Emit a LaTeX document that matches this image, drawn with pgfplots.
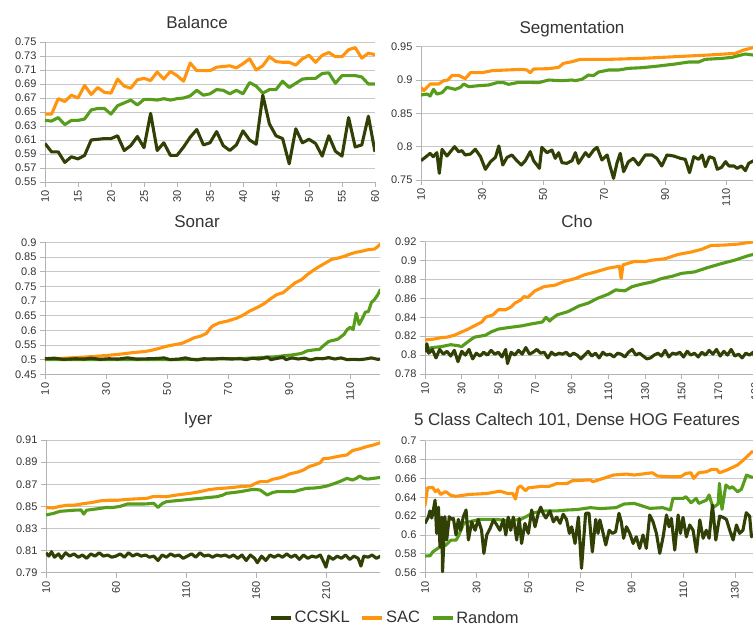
\documentclass[border=0pt]{standalone}
\usepackage{pgfplots}
\pgfplotsset{compat=1.18}
\usepackage{fontspec}
\setmainfont{Liberation Sans}
\definecolor{cc}{HTML}{314004}
\definecolor{sac}{HTML}{FF950E}
\definecolor{rnd}{HTML}{579D1C}
\definecolor{gridgray}{HTML}{C8C8C8}
\definecolor{axisgray}{HTML}{B3B3B3}
\definecolor{txt}{HTML}{333333}
\pgfplotsset{panel/.style={
  scale only axis, axis x line*=bottom, axis y line*=left,
  axis line style={draw=axisgray, line width=0.8pt},
  tick align=outside, major tick length=5pt,
  tick style={draw=axisgray, line width=0.8pt},
  ymajorgrids, grid style={draw=gridgray, line width=0.8pt},
  scaled ticks=false,
  /pgf/number format/assume math mode=true,
  xticklabel style={rotate=90, anchor=east, font=\fontsize{11}{11}\selectfont, text=txt},
  yticklabel style={font=\fontsize{11}{11}\selectfont, text=txt},
  every axis plot/.append style={line width=3.1pt, line join=round, mark=none},
}}
\begin{document}
\begin{tikzpicture}
\useasboundingbox (0,0) rectangle (753pt,626pt);
% Balance
\begin{axis}[panel, at={(45pt,444pt)}, anchor=south west, width=330pt, height=140pt,
  xmin=10, xmax=60, ymin=0.55, ymax=0.75,
  xtick={10,15,20,25,30,35,40,45,50,55,60},
  ytick={0.55,0.57,0.59,0.61,0.63,0.65,0.67,0.69,0.71,0.73,0.75}]
\addplot[sac] coordinates {(10,0.647)(11,0.647)(12,0.669)(13,0.665)(14,0.674)(15,0.670)(16,0.688)(17,0.675)(18,0.685)(19,0.678)(20,0.677)(21,0.697)(22,0.687)(23,0.684)(24,0.696)(25,0.698)(26,0.695)(27,0.707)(28,0.697)(29,0.708)(30,0.702)(31,0.694)(32,0.720)(33,0.709)(34,0.709)(35,0.709)(36,0.714)(37,0.715)(38,0.716)(39,0.713)(40,0.719)(41,0.726)(42,0.710)(43,0.716)(44,0.729)(45,0.722)(46,0.721)(47,0.721)(48,0.717)(49,0.726)(50,0.731)(51,0.721)(52,0.731)(53,0.735)(54,0.729)(55,0.729)(56,0.739)(57,0.742)(58,0.727)(59,0.734)(60,0.732)};
\addplot[rnd] coordinates {(10,0.638)(11,0.637)(12,0.642)(13,0.632)(14,0.638)(15,0.638)(16,0.640)(17,0.653)(18,0.655)(19,0.655)(20,0.647)(21,0.659)(22,0.663)(23,0.667)(24,0.660)(25,0.668)(26,0.668)(27,0.667)(28,0.669)(29,0.667)(30,0.669)(31,0.670)(32,0.673)(33,0.681)(34,0.674)(35,0.676)(36,0.682)(37,0.681)(38,0.676)(39,0.681)(40,0.676)(41,0.692)(42,0.687)(43,0.677)(44,0.682)(45,0.682)(46,0.694)(47,0.685)(48,0.691)(49,0.697)(50,0.698)(51,0.698)(52,0.705)(53,0.706)(54,0.691)(55,0.702)(56,0.702)(57,0.702)(58,0.700)(59,0.690)(60,0.690)};
\addplot[cc] coordinates {(10,0.605)(11,0.593)(12,0.593)(13,0.578)(14,0.586)(15,0.583)(16,0.588)(17,0.610)(18,0.611)(19,0.612)(20,0.612)(21,0.616)(22,0.595)(23,0.602)(24,0.615)(25,0.599)(26,0.648)(27,0.595)(28,0.606)(29,0.588)(30,0.588)(31,0.600)(32,0.614)(33,0.625)(34,0.603)(35,0.606)(36,0.622)(37,0.602)(38,0.595)(39,0.603)(40,0.623)(41,0.610)(42,0.604)(43,0.674)(44,0.633)(45,0.616)(46,0.612)(47,0.576)(48,0.626)(49,0.606)(50,0.611)(51,0.605)(52,0.587)(53,0.616)(54,0.594)(55,0.587)(56,0.642)(57,0.600)(58,0.603)(59,0.644)(60,0.593)};
\end{axis}
% Segmentation
\begin{axis}[panel, at={(421pt,446pt)}, anchor=south west, width=332pt, height=133.3pt,
  xmin=10, xmax=118.8, ymin=0.75, ymax=0.95,
  xtick={10,30,50,70,90,110}, ytick={0.75,0.8,0.85,0.9,0.95}]
\addplot[sac] coordinates {(10,0.889)(10.9,0.884)(13,0.894)(15.8,0.894)(17.4,0.899)(18.8,0.900)(20.2,0.907)(22.3,0.907)(24.5,0.902)(26.2,0.911)(30,0.911)(33.3,0.914)(37.8,0.915)(43.1,0.916)(44.7,0.915)(45.8,0.911)(46.9,0.9165)(51.8,0.917)(55.1,0.919)(56.7,0.925)(59.5,0.9275)(62.2,0.931)(71.5,0.931)(82.4,0.9325)(93.3,0.935)(104.2,0.9375)(113,0.94)(115.7,0.945)(118.8,0.9485)(120,0.949)};
\addplot[rnd] coordinates {(10,0.8775)(12,0.879)(13,0.876)(14.1,0.886)(15.2,0.879)(16.9,0.881)(18.5,0.889)(21.2,0.886)(22.9,0.889)(24,0.894)(25.6,0.890)(28.9,0.8915)(32.2,0.8925)(34.9,0.896)(37.1,0.896)(38.7,0.8935)(42,0.8965)(45.3,0.8965)(48.5,0.896)(51.8,0.900)(56.2,0.899)(59.5,0.900)(60.5,0.899)(62.7,0.901)(64.9,0.9075)(66.5,0.9065)(68.2,0.912)(71.5,0.915)(74.7,0.915)(78,0.9175)(82.4,0.9185)(87.8,0.921)(93.3,0.924)(97.7,0.927)(101,0.927)(103.1,0.931)(108.6,0.9325)(111.9,0.934)(116.2,0.939)(118.8,0.9375)(120,0.937)};
\addplot[cc] coordinates {(10,0.779)(11.4,0.784)(13,0.790)(14,0.785)(15.2,0.791)(16,0.760)(16.9,0.796)(18.5,0.786)(21,0.800)(22.3,0.7925)(23.4,0.794)(24.5,0.7875)(26.2,0.789)(27.8,0.796)(29.5,0.785)(31.1,0.766)(32.8,0.7775)(34.4,0.784)(35.5,0.801)(36.8,0.7725)(38.2,0.784)(39.8,0.7875)(41.4,0.779)(42.9,0.7725)(44.2,0.779)(45.8,0.7925)(46.9,0.779)(48.8,0.7675)(49.6,0.799)(51.3,0.791)(52.9,0.795)(54,0.7825)(55.1,0.791)(56.2,0.776)(57.8,0.775)(59.5,0.779)(60.6,0.791)(61.6,0.775)(63.9,0.791)(65,0.785)(66.6,0.795)(67.7,0.799)(69.3,0.780)(71,0.7875)(72,0.770)(73.1,0.7525)(74.2,0.775)(75.3,0.790)(76.4,0.7625)(78,0.7775)(79.6,0.7825)(81.3,0.7725)(83.5,0.7875)(85.7,0.7875)(87.3,0.7825)(88.9,0.771)(90.6,0.7875)(92.8,0.786)(95,0.7825)(96.6,0.781)(98,0.761)(99.4,0.785)(101,0.781)(102.1,0.7875)(103.2,0.770)(104.5,0.785)(106,0.7825)(107.1,0.766)(108.5,0.769)(109.8,0.7775)(110.9,0.771)(112.6,0.771)(113.6,0.7675)(115,0.771)(116.3,0.764)(117.4,0.775)(119,0.779)};
\end{axis}
% Sonar
\begin{axis}[panel, at={(45pt,251.7pt)}, anchor=south west, width=335pt, height=132pt,
  xmin=10, xmax=119.8, ymin=0.45, ymax=0.9,
  xtick={10,30,50,70,90,110}, ytick={0.45,0.5,0.55,0.6,0.65,0.7,0.75,0.8,0.85,0.9}]
\addplot[sac] coordinates {(10,0.502)(15,0.504)(20,0.507)(25,0.510)(30,0.514)(35,0.519)(38,0.523)(40,0.525)(43,0.528)(45,0.532)(48,0.540)(50,0.546)(53,0.552)(55,0.556)(57,0.565)(59,0.575)(61,0.580)(63,0.590)(64,0.605)(65,0.615)(67,0.625)(70,0.632)(73,0.642)(75,0.652)(77,0.665)(80,0.680)(82,0.692)(84,0.708)(86,0.722)(88,0.728)(90,0.745)(92,0.762)(94,0.772)(96,0.790)(98,0.805)(100,0.818)(102,0.830)(104,0.842)(106,0.846)(108,0.852)(110,0.860)(112,0.866)(114,0.870)(116,0.875)(118,0.877)(119,0.885)(120,0.895)};
\addplot[rnd] coordinates {(10,0.500)(20,0.500)(30,0.500)(40,0.500)(50,0.500)(60,0.501)(70,0.503)(78,0.505)(82,0.508)(86,0.510)(88,0.513)(91,0.516)(94,0.521)(96,0.530)(98,0.533)(100,0.535)(101,0.545)(103,0.562)(105,0.567)(106,0.570)(107,0.578)(108,0.586)(109,0.602)(110,0.610)(111,0.603)(112,0.658)(113,0.620)(114,0.640)(115,0.662)(116,0.664)(117,0.695)(118,0.705)(119,0.720)(120,0.740)};
\addplot[cc] coordinates {(10,0.503)(13,0.505)(16,0.501)(20,0.503)(23,0.502)(25,0.505)(28,0.501)(31,0.503)(34,0.502)(37,0.506)(40,0.502)(44,0.503)(47,0.504)(49,0.506)(51,0.500)(54,0.502)(56,0.506)(58,0.501)(60,0.499)(62,0.503)(65,0.502)(68,0.504)(71,0.502)(74,0.503)(76,0.500)(78,0.505)(80,0.502)(82,0.506)(83,0.509)(84,0.500)(86,0.504)(88,0.509)(89,0.500)(91,0.506)(93,0.502)(95,0.505)(97,0.499)(99,0.504)(101,0.503)(103,0.507)(105,0.502)(107,0.506)(109,0.500)(111,0.501)(113,0.500)(115,0.502)(117,0.506)(119,0.501)(120,0.502)};
\end{axis}
% Cho
\begin{axis}[panel, at={(425pt,252pt)}, anchor=south west, width=330pt, height=132.3pt,
  xmin=10, xmax=190, ymin=0.78, ymax=0.92,
  xtick={10,30,50,70,90,110,130,150,170,190}, ytick={0.78,0.8,0.82,0.84,0.86,0.88,0.9,0.92}]
\addplot[sac] coordinates {(10,0.816)(15,0.817)(19,0.8185)(22,0.819)(26,0.821)(30,0.8245)(33,0.827)(36,0.830)(41,0.835)(43,0.840)(47,0.8425)(50,0.848)(54,0.848)(57,0.851)(59,0.855)(62,0.858)(64,0.862)(66,0.861)(70,0.868)(75,0.8725)(81,0.874)(86,0.878)(92,0.881)(97,0.885)(103,0.888)(110,0.892)(116,0.894)(117,0.881)(118,0.8955)(124,0.899)(130,0.899)(134,0.9005)(141,0.902)(148,0.9065)(155,0.909)(161,0.912)(166,0.916)(174,0.9165)(181,0.9175)(186,0.919)(190,0.920)};
\addplot[rnd] coordinates {(10,0.806)(14,0.808)(19,0.809)(24,0.811)(28,0.810)(30,0.809)(34,0.815)(37,0.819)(43,0.821)(46,0.8245)(50,0.8275)(55,0.829)(63,0.831)(68,0.833)(74,0.835)(76,0.840)(78,0.836)(79,0.838)(82,0.8425)(88,0.846)(94,0.852)(99,0.855)(104,0.860)(110,0.8645)(114,0.869)(119,0.868)(123,0.8725)(128,0.875)(134,0.8775)(139,0.881)(145,0.8835)(150,0.8865)(157,0.888)(164,0.8925)(172,0.897)(179,0.9005)(186,0.905)(190,0.907)};
\addplot[cc] coordinates {(10,0.803)(11,0.812)(12,0.802)(14,0.806)(16,0.797)(18,0.806)(20,0.801)(22,0.804)(24,0.799)(26,0.805)(28,0.793)(30,0.804)(32,0.800)(34,0.806)(36,0.796)(38,0.802)(40,0.799)(42,0.803)(44,0.800)(46,0.805)(48,0.801)(50,0.803)(52,0.798)(54,0.806)(55,0.791)(57,0.803)(59,0.800)(61,0.805)(63,0.801)(65,0.808)(67,0.801)(69,0.803)(71,0.806)(73,0.802)(75,0.803)(77,0.797)(79,0.803)(81,0.800)(83,0.802)(85,0.801)(87,0.803)(89,0.799)(91,0.802)(93,0.800)(95,0.796)(97,0.800)(99,0.804)(101,0.799)(103,0.802)(105,0.797)(107,0.803)(109,0.800)(111,0.801)(113,0.798)(115,0.802)(117,0.801)(119,0.798)(121,0.803)(123,0.806)(125,0.800)(127,0.802)(129,0.799)(131,0.796)(133,0.797)(135,0.800)(137,0.802)(139,0.799)(141,0.805)(143,0.798)(145,0.802)(147,0.801)(149,0.803)(151,0.798)(153,0.804)(155,0.800)(157,0.802)(159,0.798)(161,0.803)(163,0.800)(165,0.805)(167,0.801)(169,0.806)(171,0.799)(173,0.804)(175,0.800)(177,0.806)(179,0.799)(181,0.801)(183,0.797)(185,0.802)(187,0.800)(189,0.803)(190,0.797)};
\end{axis}
% Iyer
\begin{axis}[panel, at={(46pt,53.3pt)}, anchor=south west, width=334pt, height=132.7pt,
  xmin=10, xmax=248.6, ymin=0.79, ymax=0.91,
  xtick={10,60,110,160,210}, ytick={0.79,0.81,0.83,0.85,0.87,0.89,0.91},
  legend style={at={(1.045,-0.341)}, anchor=center, legend columns=3, draw=none, fill=none,
    font=\fontsize{16.5}{16.5}\selectfont, text=txt,
    /tikz/every even column/.append style={column sep=9pt}},
  legend image code/.code={\draw[#1, line width=3.3pt] (0pt,0pt) -- (20pt,0pt);}]
\addlegendimage{cc}\addlegendentry{CCSKL}
\addlegendimage{sac}\addlegendentry{SAC}
\addlegendimage{rnd}\addlegendentry{Random}
\addplot[sac, forget plot] coordinates {(10,0.849)(15,0.8485)(20,0.850)(25,0.851)(30,0.851)(37,0.8525)(43,0.8535)(49,0.855)(55,0.8555)(61,0.8555)(67,0.8562)(72,0.8566)(82,0.8572)(86,0.8587)(90,0.859)(96,0.8587)(102,0.860)(108,0.861)(114,0.862)(120,0.8633)(126,0.865)(132,0.866)(138,0.8665)(144,0.8672)(150,0.868)(156,0.8684)(160,0.871)(163,0.8723)(168,0.8723)(172,0.8745)(176,0.8755)(180,0.877)(184,0.8793)(190,0.881)(194,0.8829)(198,0.886)(202,0.8875)(206,0.8895)(208,0.893)(212,0.8935)(216,0.8945)(220,0.8955)(225,0.8965)(229,0.9005)(234,0.902)(239,0.904)(244,0.9055)(249,0.9076)};
\addplot[rnd, forget plot] coordinates {(10,0.8422)(15,0.8435)(20,0.8455)(25,0.846)(30,0.8465)(35,0.8467)(37,0.843)(39,0.8465)(45,0.8475)(49,0.8482)(53,0.849)(58,0.849)(63,0.850)(68,0.8521)(74,0.8521)(80,0.8521)(87,0.8527)(90,0.849)(93,0.8525)(96,0.8542)(102,0.855)(108,0.8557)(114,0.8565)(120,0.8572)(126,0.858)(132,0.8587)(136,0.860)(139,0.8618)(144,0.8625)(149,0.8633)(154,0.8645)(158,0.8654)(163,0.8648)(166,0.862)(168,0.8603)(172,0.8625)(175,0.8633)(181,0.8633)(187,0.8633)(192,0.865)(196,0.8663)(201,0.8665)(206,0.8672)(211,0.8685)(215,0.8702)(220,0.8725)(225,0.8753)(229,0.8738)(232,0.8755)(234,0.8774)(237,0.8752)(240,0.8747)(245,0.8755)(249,0.8762)};
\addplot[cc, forget plot] coordinates {(10,0.808)(12,0.805)(14,0.809)(16,0.804)(19,0.807)(21,0.803)(24,0.808)(27,0.805)(30,0.807)(33,0.804)(36,0.806)(39,0.803)(42,0.807)(45,0.805)(48,0.808)(51,0.805)(54,0.806)(57,0.804)(60,0.805)(63,0.807)(66,0.804)(69,0.808)(72,0.805)(75,0.807)(78,0.805)(81,0.806)(84,0.804)(87,0.805)(90,0.801)(93,0.806)(96,0.804)(99,0.807)(102,0.805)(105,0.806)(108,0.803)(111,0.805)(114,0.807)(117,0.804)(120,0.808)(123,0.805)(126,0.806)(129,0.804)(132,0.806)(135,0.805)(138,0.806)(141,0.804)(144,0.806)(147,0.803)(150,0.806)(153,0.801)(156,0.806)(159,0.803)(161,0.799)(164,0.805)(167,0.801)(170,0.806)(173,0.804)(176,0.806)(179,0.804)(182,0.807)(185,0.804)(188,0.806)(191,0.802)(194,0.806)(197,0.803)(200,0.805)(203,0.804)(206,0.806)(209,0.798)(210,0.795)(212,0.805)(215,0.802)(218,0.805)(221,0.803)(224,0.806)(227,0.802)(230,0.805)(233,0.803)(235,0.796)(237,0.805)(240,0.804)(243,0.806)(246,0.803)(249,0.805)};
\end{axis}
% Caltech
\begin{axis}[panel, at={(425pt,53.3pt)}, anchor=south west, width=328pt, height=132pt,
  xmin=10, xmax=137, ymin=0.56, ymax=0.7,
  xtick={10,30,50,70,90,110,130}, ytick={0.56,0.58,0.6,0.62,0.64,0.66,0.68,0.7}]
\addplot[sac] coordinates {(10,0.631)(11,0.650)(13,0.6505)(14,0.646)(15,0.648)(16,0.643)(18,0.646)(20,0.642)(22,0.641)(27,0.643)(34,0.644)(39,0.6465)(42,0.644)(44,0.644)(45,0.638)(46,0.650)(47,0.652)(49,0.647)(50,0.650)(55,0.6515)(58,0.6515)(61,0.6545)(65,0.6545)(67,0.6575)(71,0.658)(74,0.6585)(75,0.6565)(79,0.660)(83,0.6636)(88,0.6646)(91,0.6636)(94,0.6646)(98,0.666)(100,0.6625)(105,0.6618)(109,0.6618)(111,0.6653)(113,0.666)(114,0.660)(116,0.666)(119,0.667)(121,0.6696)(123,0.6696)(124,0.666)(127,0.669)(131,0.6742)(133,0.6788)(136,0.6866)(137,0.689)};
\addplot[rnd] coordinates {(10,0.5777)(12,0.578)(13,0.582)(15,0.586)(18,0.589)(20,0.5945)(22,0.5945)(23,0.599)(25,0.6125)(27,0.614)(31,0.6165)(38,0.6165)(42,0.615)(47,0.6165)(52,0.6235)(56,0.6255)(61,0.6255)(65,0.6265)(69,0.627)(74,0.629)(78,0.628)(84,0.629)(87,0.6328)(91,0.6335)(93,0.6318)(97,0.6282)(102,0.629)(105,0.6265)(106,0.6388)(110,0.6388)(111,0.6406)(113,0.6342)(115,0.6388)(116,0.6335)(119,0.637)(120,0.6424)(121.5,0.629)(123.5,0.6328)(124,0.6547)(125,0.6272)(126.5,0.653)(128,0.6494)(129,0.6512)(131,0.6459)(132.5,0.6484)(134.5,0.6636)(136,0.6618)(137,0.661)};
\addplot[cc] coordinates {(10,0.6123)(11.3,0.619)(11.9,0.6255)(12.6,0.618)(13.2,0.626)(13.9,0.637)(14.5,0.6017)(15.2,0.6295)(15.8,0.5876)(16.5,0.619)(16.8,0.561)(17.7,0.6194)(18.4,0.5947)(19.4,0.6194)(20.3,0.6165)(21,0.6175)(22,0.600)(22.9,0.6165)(23.8,0.605)(24.8,0.619)(25.9,0.6265)(26.8,0.5947)(28.1,0.614)(29.4,0.605)(30.6,0.6165)(31.9,0.605)(32.8,0.5805)(33.9,0.600)(35.2,0.607)(36.5,0.616)(37.7,0.611)(39,0.605)(40.3,0.6165)(41.3,0.600)(42.2,0.619)(43.2,0.605)(44.2,0.619)(45.5,0.5947)(46.5,0.6175)(47.4,0.591)(48.7,0.6123)(50,0.6017)(51.3,0.6265)(52.6,0.6087)(53.9,0.6235)(54.8,0.6295)(55.8,0.6225)(56.8,0.618)(58.4,0.6255)(59.7,0.614)(61,0.619)(62.3,0.6123)(63.5,0.622)(64.8,0.6165)(65.9,0.6017)(66.8,0.6087)(68.1,0.591)(69.4,0.619)(70.6,0.5646)(72.2,0.623)(73.5,0.623)(74.8,0.582)(76.1,0.6165)(77,0.6017)(77.7,0.616)(78.7,0.605)(80,0.5894)(81.3,0.605)(82.6,0.6017)(83.8,0.6035)(85.1,0.623)(86,0.614)(86.9,0.5965)(88,0.6087)(89.3,0.6017)(90.6,0.591)(91.8,0.598)(93.1,0.5858)(94.4,0.600)(95.7,0.5858)(97,0.6212)(98.3,0.614)(99.6,0.6017)(100.9,0.5805)(102.2,0.598)(103.5,0.6212)(104.5,0.6087)(105.4,0.6176)(106.7,0.584)(108,0.6212)(108.9,0.6017)(109.9,0.6187)(111.2,0.598)(112.5,0.6106)(113.8,0.605)(115.1,0.582)(116.4,0.616)(117.7,0.5965)(118.9,0.605)(120,0.5965)(121.3,0.6318)(122.6,0.5947)(124.1,0.620)(125.4,0.6187)(126.7,0.6165)(128,0.605)(129.3,0.5947)(130.6,0.6106)(131.8,0.6017)(133.1,0.605)(134.4,0.6236)(135.7,0.620)(136.4,0.598)(137,0.6017)};
\end{axis}
% titles
\begin{scope}[every node/.style={font=\fontsize{17}{17}\selectfont, text=txt, anchor=center}]
\node at (197pt,604pt) {Balance};
\node at (572pt,597pt) {Segmentation};
\node at (197pt,404pt) {Sonar};
\node at (577pt,405pt) {Cho};
\node at (198pt,206pt) {Iyer};
\node at (577pt,206pt) {5 Class Caltech 101, Dense HOG Features};
\end{scope}
\end{tikzpicture}
\end{document}
